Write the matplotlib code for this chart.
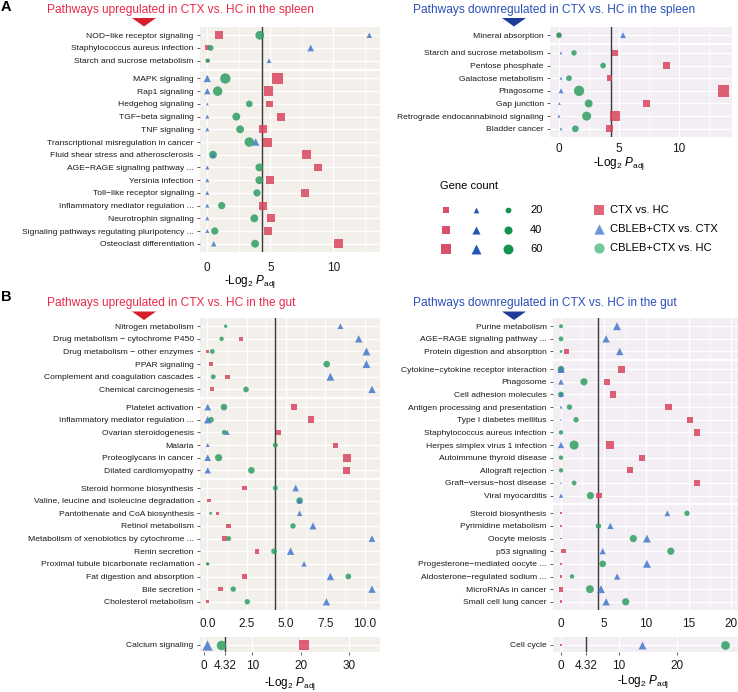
import numpy as np
import matplotlib
matplotlib.use("Agg")
import matplotlib.pyplot as plt
from matplotlib import font_manager
from matplotlib.patches import Polygon

nan = np.nan

# ---- panel A, upregulated in spleen ----
a_up_terms = ["NOD\u2212like receptor signaling", "Staphylococcus aureus infection",
              "Starch and sucrose metabolism", "MAPK signaling", "Rap1 signaling",
              "Hedgehog signaling", "TGF\u2212beta signaling", "TNF signaling",
              "Transcriptional misregulation in cancer", "Fluid shear stress and atherosclerosis",
              "AGE\u2212RAGE signaling pathway ...", "Yersinia infection",
              "Toll\u2212like receptor signaling", "Inflammatory mediator regulation ...",
              "Neurotrophin signaling", "Signaling pathways regulating pluripotency ...",
              "Osteoclast differentiation"]
a_up_groups = [0, 0, 0, 1, 1, 1, 1, 1, 1, 1, 1, 1, 1, 1, 1, 1, 1]
a_up_ctx = [0.95, 0.03, 0.0, 5.56, 4.87, 4.94, 5.85, 4.45, 4.79, 7.9, 8.76, 4.94, 7.75, 4.42, 5.03, 4.79, 10.4]
a_up_ctx_n = [38, 15, 8, 70, 55, 27, 38, 38, 50, 50, 38, 38, 32, 38, 38, 38, 50]
a_up_cc = [12.85, 8.2, 4.9, 0.0, 0.0, 0.0, 0.0, 0.0, 3.84, 0.45, 0.0, 0.0, 0.0, 0.0, 0.0, 0.0, 0.51]
a_up_cc_n = [18, 27, 14, 33, 24, 5, 10, 10, 33, 18, 10, 10, 10, 10, 10, 10, 18]
a_up_ch = [4.16, 0.27, 0.03, 1.43, 0.82, 3.33, 2.3, 2.6, 3.33, 0.45, 4.13, 4.13, 3.94, 1.14, 3.73, 0.59, 3.79]
a_up_ch_n = [47, 20, 12, 65, 55, 27, 38, 38, 55, 38, 38, 38, 32, 32, 38, 32, 38]

# ---- panel A, downregulated in spleen ----
a_down_terms = ["Mineral absorption", "Starch and sucrose metabolism", "Pentose phosphate",
                "Galactose metabolism", "Phagosome", "Gap junction",
                "Retrograde endocannabinoid signaling", "Bladder cancer"]
a_down_groups = [0, 1, 1, 1, 1, 1, 1, 1]
a_down_ctx = [0.0, 4.67, 8.94, 4.2, 13.7, 7.28, 4.67, 4.2]
a_down_ctx_n = [12, 18, 27, 20, 80, 38, 58, 27]
a_down_cc = [5.33, 0.17, nan, 0.17, 0.17, 0.03, 0.0, 0.17]
a_down_cc_n = [20, 5, nan, 5, 15, 5, 6, 5]
a_down_ch = [0.0, 1.25, 3.67, 0.83, 1.67, 2.47, 2.3, 1.36]
a_down_ch_n = [20, 18, 20, 20, 65, 38, 50, 27]

# ---- panel B, upregulated in gut ----
b_up_terms = ["Nitrogen metabolism", "Drug metabolism \u2212 cytochrome P450",
              "Drug metabolism \u2212 other enzymes", "PPAR signaling",
              "Complement and coagulation cascades", "Chemical carcinogenesis",
              "Platelet activation", "Inflammatory mediator regulation ...",
              "Ovarian steroidogenesis", "Malaria", "Proteoglycans in cancer",
              "Dilated cardiomyopathy", "Steroid hormone biosynthesis",
              "Valine, leucine and isoleucine degradation", "Pantothenate and CoA biosynthesis",
              "Retinol metabolism", "Metabolism of xenobiotics by cytochrome ...",
              "Renin secretion", "Proximal tubule bicarbonate reclamation",
              "Fat digestion and absorption", "Bile secretion", "Cholesterol metabolism"]
b_up_groups = [0] * 6 + [1] * 6 + [2] * 10
b_up_ctx = [nan, 2.14, 0.03, 0.24, 1.29, 0.3, 5.5, 6.58, 4.49, 8.15, 8.85, 8.85,
            2.37, 0.11, 0.64, 1.36, 1.08, 3.16, 0.03, 2.37, 0.83, 0.03]
b_up_ctx_n = [nan, 12, 5, 10, 12, 10, 27, 27, 15, 15, 38, 32,
              12, 7, 5, 12, 14, 14, 4, 12, 12, 7]
b_up_cc = [8.45, 9.61, 10.1, 10.1, 7.81, 10.45, 0.03, 0.03, 1.27, 0.03, 0.03, 0.03,
           5.61, 5.86, 5.86, 6.71, 10.45, 5.29, 6.14, 7.81, 10.45, 7.56]
b_up_cc_n = [20, 33, 38, 38, 38, 33, 27, 33, 15, 10, 27, 24,
             27, 18, 18, 30, 27, 33, 18, 33, 33, 33]
b_up_ch = [1.17, 0.91, 0.32, 7.58, 0.38, 2.46, 1.06, 0.24, 1.08, 4.32, 0.72, 2.8,
           4.32, 5.86, 0.21, 5.44, 1.36, 4.24, 0.03, 8.95, 1.65, 2.54]
b_up_ch_n = [7, 12, 14, 27, 14, 20, 27, 20, 15, 15, 32, 27,
             15, 27, 5, 18, 15, 20, 7, 20, 18, 18]

b_up2_terms = ["Calcium signaling"]
b_up2_groups = [0]
b_up2_ctx = [20.7]
b_up2_ctx_n = [70]
b_up2_cc = [0.68]
b_up2_cc_n = [65]
b_up2_ch = [3.6]
b_up2_ch_n = [55]

# ---- panel B, downregulated in gut ----
b_down_terms = ["Purine metabolism", "AGE\u2212RAGE signaling pathway ...",
                "Protein digestion and absorption", "Cytokine\u2212cytokine receptor interaction",
                "Phagosome", "Cell adhesion molecules", "Antigen processing and presentation",
                "Type I diabetes mellitus", "Staphylococcus aureus infection",
                "Herpes simplex virus 1 infection", "Autoimmune thyroid disease",
                "Allograft rejection", "Graft\u2212versus\u2212host disease", "Viral myocarditis",
                "Steroid biosynthesis", "Pyrimidine metabolism", "Oocyte meiosis", "p53 signaling",
                "Progesterone\u2212mediated oocyte ...", "Aldosterone\u2212regulated sodium ...",
                "MicroRNAs in cancer", "Small cell lung cancer"]
b_down_groups = [0] * 3 + [1] * 11 + [2] * 8
b_down_ctx = [nan, nan, 0.68, 7.1, 5.4, 6.1, 12.6, 15.2, 16.0, 5.75, 9.5, 8.1, 16.0, 4.5,
              0.0, 0.0, 0.0, 0.3, 0.0, 0.0, 0.0, 0.0]
b_down_ctx_n = [nan, nan, 14, 32, 27, 27, 27, 20, 27, 42, 20, 20, 20, 20,
                3, 2, 2, 12, 2, 4, 15, 5]
b_down_cc = [6.58, 5.3, 6.9, 0.0, 0.0, 0.0, 0.0, 0.0, nan, 0.0, nan, nan, 0.0, 0.0,
             12.5, 5.8, 10.1, 4.9, 10.1, 6.6, 4.7, 5.3]
b_down_cc_n = [38, 33, 33, 33, 20, 15, 5, 2, nan, 24, nan, nan, 2, 12,
               20, 24, 38, 24, 38, 24, 38, 33]
b_down_ch = [0.0, 0.0, 0.0, 0.0, 2.7, 0.0, 1.0, 1.77, 0.0, 1.54, 0.0, 0.0, 1.54, 3.46,
             14.8, 4.4, 8.5, 12.9, 4.9, 1.3, 3.4, 7.6]
b_down_ch_n = [10, 14, 5, 27, 32, 20, 18, 18, 12, 50, 12, 12, 14, 32,
               18, 18, 32, 32, 27, 12, 38, 32]

b_down2_terms = ["Cell cycle"]
b_down2_groups = [0]
b_down2_ctx = [0.0]
b_down2_ctx_n = [2]
b_down2_cc = [14.0]
b_down2_cc_n = [38]
b_down2_ch = [28.3]
b_down2_ch_n = [47]

legend_counts = [20, 40, 60]
legend_groups = ["CTX vs. HC", "CBLEB+CTX vs. CTX", "CBLEB+CTX vs. HC"]
cutoff = 4.32

# ---- style ----
SQ, TRI, CIR = "#D9455D", "#4477CC", "#2E9E62"
BG_UP, BG_DOWN = "#F3F0EC", "#F2EEF4"
RED_T, BLUE_T = "#E8294A", "#2B4FB8"

installed = {f.name for f in font_manager.fontManager.ttflist}
plt.rcParams["font.family"] = ["Liberation Sans", "DejaVu Sans"]
plt.rcParams["mathtext.fontset"] = "custom"
plt.rcParams["mathtext.rm"] = "Liberation Sans"
plt.rcParams["mathtext.it"] = "Liberation Sans:italic"
if "Liberation Sans Narrow" in installed:
    YFAM, YSIZE = ["Liberation Sans Narrow", "DejaVu Sans"], 6.8
else:
    YFAM, YSIZE = ["Liberation Sans", "DejaVu Sans"], 6.1

W, H = 738, 692
fig = plt.figure(figsize=(W / 100, H / 100), dpi=100)


def box(l, t, r, b):
    return [l / W, 1 - b / H, (r - l) / W, (b - t) / H]


def sizes(n):
    return 0.85 * np.asarray(n, dtype=float)


def rows(groups):
    pos = [0.0]
    for a, b in zip(groups[:-1], groups[1:]):
        pos.append(pos[-1] + (1.0 if a == b else 1.4))
    return np.array(pos)


def panel(rect, terms, groups, data, xlim, ticks, labels, bg, pad, minor=True, xtick_len=0):
    ax = fig.add_axes(box(*rect))
    y = rows(groups)
    ax.set_facecolor(bg)
    for sp in ax.spines.values():
        sp.set_visible(False)
    ax.set_xlim(*xlim)
    ax.set_ylim(y[-1] + 0.65, y[0] - 0.65)
    ax.set_yticks(y)
    ax.set_yticklabels(terms, fontsize=YSIZE, family=YFAM, color="#1a1a1a")
    ax.set_xticks(ticks)
    ax.set_xticklabels(labels, fontsize=8.5, color="#1a1a1a")
    ax.tick_params(axis="y", length=2.5, width=0.6, color="#444444", pad=2)
    ax.tick_params(axis="x", length=xtick_len, width=0.6, color="#444444", pad=pad)
    for t in ticks:
        ax.axvline(t, color="white", lw=0.9, zorder=0.5)
    if minor:
        step = ticks[1] - ticks[0]
        for t in np.arange(ticks[0] - step / 2, xlim[1], step):
            if xlim[0] < t < xlim[1]:
                ax.axvline(t, color="white", lw=0.45, zorder=0.5)
    for yy in y:
        ax.axhline(yy, color="white", lw=0.9, zorder=0.5)
    for i in range(1, len(groups)):
        if groups[i] != groups[i - 1]:
            ax.axhline((y[i] + y[i - 1]) / 2, color="white", lw=1.6, zorder=0.6)
    ax.axvline(cutoff, color="#3a3a3a", lw=1.0, zorder=2)
    for (vals, n), marker, color in zip(data, ["s", "o", "^"], [SQ, CIR, TRI]):
        v = np.asarray(vals, dtype=float)
        s = sizes(n)
        ok = ~np.isnan(v)
        ax.scatter(v[ok], y[ok], s=s[ok], marker=marker, color=color,
                   alpha=0.85, linewidths=0, zorder=3, clip_on=True)
    return ax


panel((200, 27, 380, 252), a_up_terms, a_up_groups,
      [(a_up_ctx, a_up_ctx_n), (a_up_ch, a_up_ch_n), (a_up_cc, a_up_cc_n)],
      (-0.58, 13.7), [0, 5, 10], ["0", "5", "10"], BG_UP, 7)
panel((550, 27, 732, 137), a_down_terms, a_down_groups,
      [(a_down_ctx, a_down_ctx_n), (a_down_ch, a_down_ch_n), (a_down_cc, a_down_cc_n)],
      (-0.75, 14.4), [0, 5, 10], ["0", "5", "10"], BG_DOWN, 4)
panel((200, 318, 380, 610), b_up_terms, b_up_groups,
      [(b_up_ctx, b_up_ctx_n), (b_up_ch, b_up_ch_n), (b_up_cc, b_up_cc_n)],
      (-0.46, 10.96), [0, 2.5, 5, 7.5, 10], ["0.0", "2.5", "5.0", "7.5", "10.0"], BG_UP, 6)
panel((200, 637, 380, 652), b_up2_terms, b_up2_groups,
      [(b_up2_ctx, b_up2_ctx_n), (b_up2_ch, b_up2_ch_n), (b_up2_cc, b_up2_cc_n)],
      (-0.83, 36.4), [0, 4.32, 10, 20, 30], ["0", "4.32", "10", "20", "30"], BG_UP, 3.5,
      minor=False, xtick_len=2.5)
panel((553, 318, 738, 610), b_down_terms, b_down_groups,
      [(b_down_ctx, b_down_ctx_n), (b_down_ch, b_down_ch_n), (b_down_cc, b_down_cc_n)],
      (-0.94, 20.8), [0, 5, 10, 15, 20], ["0", "5", "10", "15", "20"], BG_DOWN, 6)
panel((553, 637, 738, 652), b_down2_terms, b_down2_groups,
      [(b_down2_ctx, b_down2_ctx_n), (b_down2_ch, b_down2_ch_n), (b_down2_cc, b_down2_cc_n)],
      (-1.38, 30.5), [0, 4.32, 10, 20], ["0", "4.32", "10", "20"], BG_DOWN, 3.5,
      minor=False, xtick_len=2.5)

# ---- overlay for titles, arrows, axis titles and legend (pixel coords) ----
ov = fig.add_axes([0, 0, 1, 1])
ov.set_xlim(0, W)
ov.set_ylim(H, 0)
ov.axis("off")
ov.patch.set_visible(False)

ov.text(6, 7, "A", fontsize=10.5, fontweight="bold", ha="center", va="center")
ov.text(6, 297, "B", fontsize=10.5, fontweight="bold", ha="center", va="center")

ov.text(180, 10, "Pathways upregulated in CTX vs. HC in the spleen", color=RED_T,
        fontsize=8.6, ha="center", va="center")
ov.text(554, 10, "Pathways downregulated in CTX vs. HC in the spleen", color=BLUE_T,
        fontsize=8.6, ha="center", va="center")
ov.text(171, 303, "Pathways upregulated in CTX vs. HC in the gut", color=RED_T,
        fontsize=8.6, ha="center", va="center")
ov.text(545, 303, "Pathways downregulated in CTX vs. HC in the gut", color=BLUE_T,
        fontsize=8.6, ha="center", va="center")

for cx, top, col in [(144, 18, "#D71E2B"), (514, 18, "#1F3C9B"),
                     (144, 311.5, "#D71E2B"), (514, 311.5, "#1F3C9B")]:
    ov.add_patch(Polygon([[cx - 12, top], [cx + 12, top], [cx, top + 8.5]],
                         closed=True, color=col, lw=0))

xlab = r"-Log$_2$ $P_{\mathrm{adj}}$"
for x, y in [(250, 282), (619, 164), (290, 684), (643, 681)]:
    ov.text(x, y, xlab, fontsize=8.5, ha="center", va="center")

# size legend
ov.text(440, 186, "Gene count", fontsize=8, ha="left", va="center")
for yy, n in zip([210, 230, 249], legend_counts):
    ov.scatter([446], [yy], s=sizes(n), marker="s", color="#D9506A", linewidths=0)
    ov.scatter([476], [yy], s=sizes(n), marker="^", color="#2358B8", linewidths=0)
    ov.scatter([508], [yy], s=sizes(n), marker="o", color="#14924F", linewidths=0)
    ov.text(530, yy, str(n), fontsize=8, ha="left", va="center")

# group legend
for yy, lab, m, c in zip([210, 229, 248], legend_groups, ["s", "^", "o"],
                         ["#E0667A", "#6A96D8", "#72C79C"]):
    ov.scatter([599], [yy], s=55, marker=m, color=c, linewidths=0)
    ov.text(610, yy, lab, fontsize=8, ha="left", va="center")

fig.savefig("out.png", dpi=100)
